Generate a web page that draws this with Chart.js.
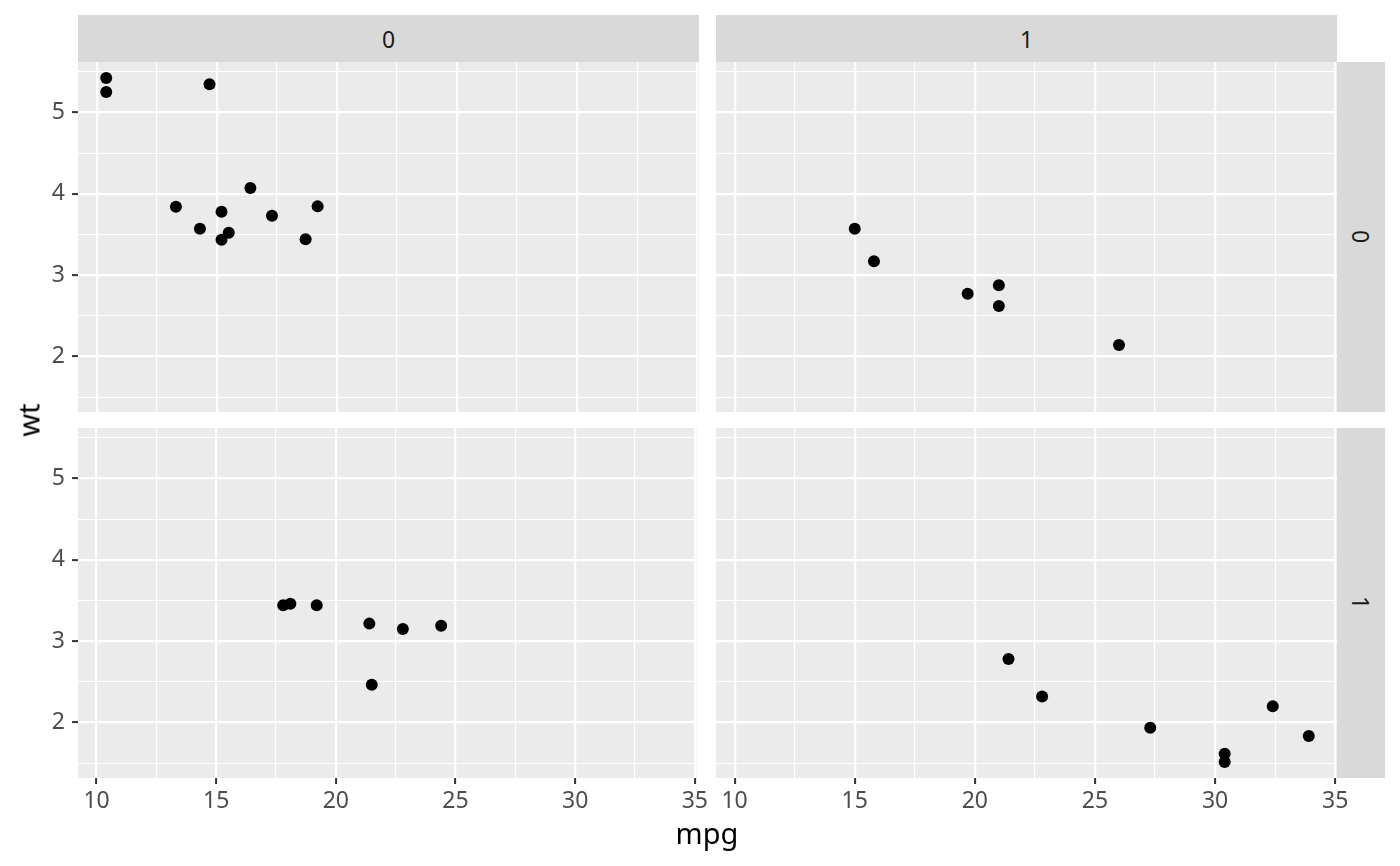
<!DOCTYPE html>
<html lang="en">
<head>
    <meta charset="UTF-8">
    <title>mpg vs wt by am / vs</title>
    <script src="https://cdn.jsdelivr.net/npm/chart.js"></script>
    <style>
        body { margin: 0; background: #fff; }
        #wrap { position: relative; width: 1400px; height: 866px; background: #fff; font-family: "Noto Sans", sans-serif; }
        canvas { position: absolute; }
        .strip { position: absolute; background: #D9D9D9; color: #1A1A1A; font-size: 23px;
                 display: flex; align-items: center; justify-content: center; }
        .strip.side span { writing-mode: vertical-rl; }
        .title { position: absolute; color: #000; font-size: 29px; line-height: 1; white-space: nowrap; }
    </style>
</head>
<body>
<div id="wrap">
    <div class="strip" id="stripTop0" style="left:78px;top:15px;width:621px;height:47px;"></div>
    <div class="strip" id="stripTop1" style="left:716px;top:15px;width:621px;height:47px;"></div>
    <div class="strip side" id="stripSide0" style="left:1337px;top:62px;width:48px;height:350px;"><span></span></div>
    <div class="strip side" id="stripSide1" style="left:1337px;top:428px;width:48px;height:350px;"><span></span></div>

    <!-- left canvases get 30px of extra room top/bottom so the y labels don't shrink the panel -->
    <canvas id="panel00" width="712" height="410" style="left:0;top:32px"></canvas>
    <canvas id="panel01" width="621" height="350" style="left:716px;top:62px"></canvas>
    <canvas id="panel10" width="712" height="430" style="left:0;top:398px"></canvas>
    <canvas id="panel11" width="640" height="400" style="left:716px;top:428px"></canvas>

    <div class="title" id="xTitle" style="left:707px;top:832px;transform:translate(-50%,-50%);">mpg</div>
    <div class="title" id="yTitle" style="left:28px;top:420px;transform:translate(-50%,-50%) rotate(-90deg);">wt</div>
</div>

<script>
    // facet levels
    const amLevels = ['0', '1'];
    const vsLevels = ['0', '1'];

    // vs = 0, am = 0
    const mpgVs0Am0 = [18.7, 14.3, 16.4, 17.3, 15.2, 10.4, 10.4, 14.7, 15.5, 15.2, 13.3, 19.2];
    const wtVs0Am0  = [3.440, 3.570, 4.070, 3.730, 3.780, 5.250, 5.424, 5.345, 3.520, 3.435, 3.840, 3.845];
    // vs = 0, am = 1
    const mpgVs0Am1 = [21.0, 21.0, 26.0, 15.8, 19.7, 15.0];
    const wtVs0Am1  = [2.620, 2.875, 2.140, 3.170, 2.770, 3.570];
    // vs = 1, am = 0
    const mpgVs1Am0 = [21.4, 18.1, 24.4, 22.8, 19.2, 17.8, 21.5];
    const wtVs1Am0  = [3.215, 3.460, 3.190, 3.150, 3.440, 3.440, 2.465];
    // vs = 1, am = 1
    const mpgVs1Am1 = [22.8, 32.4, 30.4, 33.9, 27.3, 30.4, 21.4];
    const wtVs1Am1  = [2.320, 2.200, 1.615, 1.835, 1.935, 1.513, 2.780];

    // ticks
    const xTicks = [10, 15, 20, 25, 30, 35];
    const xMinorTicks = [12.5, 17.5, 22.5, 27.5, 32.5];
    const yTicks = [2, 3, 4, 5];
    const yMinorTicks = [1.5, 2.5, 3.5, 4.5, 5.5];

    // shared limits (ggplot adds 5% on each side)
    const xMin = 9.225, xMax = 35.075;
    const yMin = 1.3175, yMax = 5.6195;

    const fonte = '"Noto Sans", sans-serif';

    document.getElementById('stripTop0').innerText = amLevels[0];
    document.getElementById('stripTop1').innerText = amLevels[1];
    document.querySelector('#stripSide0 span').innerText = vsLevels[0];
    document.querySelector('#stripSide1 span').innerText = vsLevels[1];

    const fundoPainel = {
        id: 'fundoPainel',
        beforeDraw(chart) {
            const a = chart.chartArea;
            const ctx = chart.ctx;
            ctx.save();
            ctx.fillStyle = '#EBEBEB';
            ctx.fillRect(a.left, a.top, a.right - a.left, a.bottom - a.top);
            ctx.restore();
        }
    };

    function fixTicks(lista) {
        return scale => { scale.ticks = lista.map(v => ({ value: v })); };
    }

    function desenharPainel(id, mpg, wt, mostraX, mostraY, larguraY, alturaX, pad) {
        const pontos = mpg.map((v, i) => ({ x: v, y: wt[i] }));
        new Chart(document.getElementById(id), {
            type: 'scatter',
            data: {
                datasets: [{
                    data: pontos,
                    backgroundColor: '#000000',
                    borderWidth: 0,
                    pointRadius: 6,
                    pointHoverRadius: 6
                }]
            },
            plugins: [fundoPainel],
            options: {
                responsive: false,
                animation: false,
                events: [],
                layout: { autoPadding: false, padding: pad },
                plugins: { legend: { display: false }, tooltip: { enabled: false } },
                scales: {
                    xMinor: {
                        type: 'linear', axis: 'x', position: 'bottom',
                        min: xMin, max: xMax,
                        afterBuildTicks: fixTicks(xMinorTicks),
                        afterFit: s => { s.height = 0; },
                        grid: { color: '#FFFFFF', lineWidth: 1.1, drawTicks: false },
                        border: { display: false },
                        ticks: { display: false }
                    },
                    x: {
                        type: 'linear', position: 'bottom',
                        min: xMin, max: xMax,
                        afterBuildTicks: fixTicks(xTicks),
                        afterFit: s => { s.height = alturaX; },
                        grid: { color: '#FFFFFF', lineWidth: 2.2, drawTicks: mostraX, tickLength: 6,
                                tickColor: '#333333', tickWidth: 2 },
                        border: { display: false },
                        ticks: { display: mostraX, color: '#4D4D4D', font: { family: fonte, size: 23 },
                                 padding: 4, maxRotation: 0, autoSkip: false }
                    },
                    yMinor: {
                        type: 'linear', axis: 'y', position: 'left',
                        min: yMin, max: yMax,
                        afterBuildTicks: fixTicks(yMinorTicks),
                        afterFit: s => { s.width = 0; },
                        grid: { color: '#FFFFFF', lineWidth: 1.1, drawTicks: false },
                        border: { display: false },
                        ticks: { display: false }
                    },
                    y: {
                        type: 'linear', position: 'left',
                        min: yMin, max: yMax,
                        afterBuildTicks: fixTicks(yTicks),
                        afterFit: s => { s.width = larguraY; },
                        grid: { color: '#FFFFFF', lineWidth: 2.2, drawTicks: mostraY, tickLength: 6,
                                tickColor: '#333333', tickWidth: 2 },
                        border: { display: false },
                        ticks: { display: mostraY, color: '#4D4D4D', font: { family: fonte, size: 23 },
                                 padding: 7 }
                    }
                }
            }
        });
    }

    window.onload = () => {
        desenharPainel('panel00', mpgVs0Am0, wtVs0Am0, false, true, 78, 0,
                       { left: 0, right: 13, top: 30, bottom: 30 });
        desenharPainel('panel01', mpgVs0Am1, wtVs0Am1, false, false, 0, 0,
                       { left: 0, right: 0, top: 0, bottom: 0 });
        desenharPainel('panel10', mpgVs1Am0, wtVs1Am0, true, true, 78, 50,
                       { left: 0, right: 13, top: 30, bottom: 0 });
        desenharPainel('panel11', mpgVs1Am1, wtVs1Am1, true, false, 0, 50,
                       { left: 0, right: 19, top: 0, bottom: 0 });
    };
</script>
</body>
</html>
